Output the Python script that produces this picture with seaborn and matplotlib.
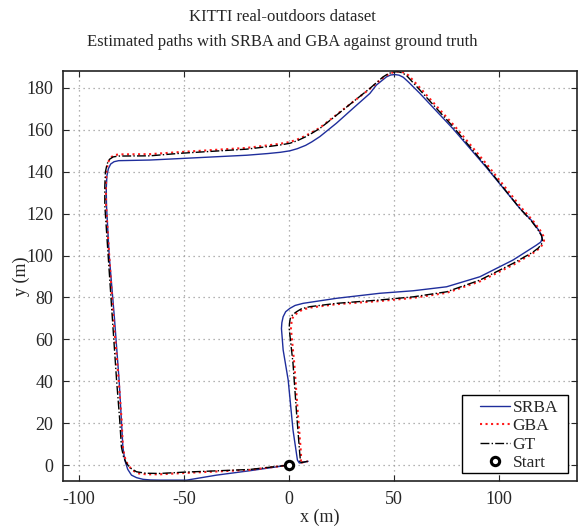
import numpy as np
import pandas as pd
import matplotlib
matplotlib.use("Agg")
import matplotlib.pyplot as plt
from matplotlib.patches import Rectangle
import seaborn as sns

# Estimated trajectories (x, y in metres), loop driven from the start point
srba_x = [0, -18.6, -34.4, -48.7, -61.4, -66.0, -69.4, -72.5, -74.9, -76.7, -78.1, -79.0, -79.7,
          -80.8, -83.0, -85.5, -86.8, -86.9, -86.6, -85.9, -84.8, -83.2, -81.0, -66.2, -51.9,
          -20.0, -10.0, -4.0, 0.5, 4.0, 8.0, 11.0, 14.8, 22.7, 30.6, 38.6, 41.7, 46.5, 48.5,
          50.5, 52.5, 54.5, 57.0, 62.4, 78.2, 94.1, 110.0, 115.5, 118.7, 120.3, 120.6, 120.0,
          117.9, 114.0, 106.8, 91.0, 75.1, 59.2, 43.3, 22.7, 6.8, 3.0, 0.5, -1.5, -2.7, -3.3,
          -3.5, -2.7, -0.3, 2.0, 4.1, 5.0, 9.2]
srba_y = [0, -2.7, -4.8, -7.2, -7.2, -7.1, -6.8, -6.0, -4.8, -2.0, 2.4, 8.7, 21.5,
          40.6, 70.0, 100.0, 124.0, 132.0, 138.0, 141.5, 143.7, 144.8, 145.3, 145.6, 146.3,
          147.9, 148.7, 149.3, 150.0, 151.0, 152.6, 154.3, 156.8, 163.2, 170.3, 177.4, 181.4, 185.3, 186.2,
          186.4, 186.1, 185.1, 182.8, 177.4, 160.5, 142.0, 122.5, 116.8, 112.5, 109.8, 108.2, 106.5,
          105.0, 102.5, 97.9, 89.9, 85.1, 83.2, 82.0, 79.6, 77.2, 76.2, 74.8, 73.2, 70.8, 68.0,
          65.2, 55.0, 40.6, 16.7, 2.4, 1.0, 1.8]

gba_x = [0, -18.6, -50.3, -61.4, -68.0, -72.0, -74.8, -76.8, -78.2, -79.0, -79.6, -81.0, -83.5,
         -85.5, -87.0, -87.1, -86.8, -86.0, -84.8, -83.0, -80.5, -66.2, -51.9, -20.0, -10.0,
         -4.0, 0.5, 4.0, 8.0, 11.0, 14.8, 22.7, 30.6, 38.6, 45.0, 48.0, 50.5, 53.0, 55.0, 57.0,
         63.4, 79.2, 95.1, 111.0, 116.3, 119.5, 121.2, 121.5, 120.8, 119.0, 116.0, 107.2, 91.3,
         75.1, 59.2, 43.3, 22.7, 10.5, 6.5, 4.3, 2.4, 1.4, 1.0, 2.6, 4.3, 5.8, 5.8, 5.2, 9.0]
gba_y = [0, -2.3, -3.8, -4.4, -4.4, -3.9, -2.2, 0.5, 4.0, 8.7, 21.5, 40.6, 70.0,
         100.0, 124.0, 133.0, 140.5, 144.6, 146.8, 148.0, 148.3, 148.4, 149.4, 151.4, 152.6,
         153.4, 154.2, 155.4, 157.2, 158.8, 161.0, 167.2, 173.4, 179.6, 185.0, 186.9, 187.7, 187.9, 187.3, 186.0,
         179.0, 161.5, 142.5, 122.5, 116.5, 112.3, 109.3, 107.2, 105.2, 103.2, 101.0, 95.8, 87.8,
         82.2, 79.8, 78.3, 76.8, 75.2, 74.2, 72.8, 71.3, 69.5, 65.0, 48.5, 24.7, 5.6, 2.3, 1.0, 1.8]

gt_x = [0, -18.6, -50.3, -61.4, -68.0, -72.5, -75.3, -77.3, -78.7, -79.7, -80.5, -82.0, -84.0,
        -86.0, -87.6, -87.6, -87.3, -86.5, -85.3, -83.6, -81.0, -66.2, -51.9, -20.0, -10.0,
        -4.0, 0.5, 4.0, 8.0, 11.0, 14.8, 22.7, 30.6, 38.6, 44.9, 47.5, 49.7, 52.0, 54.0, 56.0,
        62.4, 78.2, 94.1, 110.0, 115.5, 118.5, 120.3, 120.8, 120.3, 118.8, 116.0, 106.8, 91.0,
        75.1, 59.2, 43.3, 22.7, 10.0, 6.0, 3.7, 1.8, 0.7, 0.3, 0.2, 2.0, 3.7, 5.2, 5.5, 5.0, 9.0]
gt_y = [0, -2.1, -3.4, -4.0, -3.9, -3.2, -1.5, 0.8, 4.0, 8.7, 21.5, 40.6, 70.0,
        100.0, 124.0, 133.0, 140.0, 143.8, 146.0, 147.1, 147.5, 147.6, 148.8, 150.8, 152.0,
        152.8, 153.6, 154.8, 156.7, 158.4, 160.7, 167.0, 173.4, 179.8, 185.3, 186.9, 187.6, 187.8, 187.2, 186.0,
        179.0, 161.5, 142.5, 122.5, 116.5, 112.5, 109.5, 107.4, 105.5, 103.6, 101.5, 96.3, 88.3,
        82.7, 80.3, 78.8, 77.2, 75.6, 74.6, 73.2, 71.8, 70.0, 67.5, 65.0, 48.5, 24.7, 5.6, 2.5, 1.0, 1.8]

start_x = [0.0]
start_y = [0.0]

x_ticks = [-100, -50, 0, 50, 100]
y_ticks = [0, 20, 40, 60, 80, 100, 120, 140, 160, 180]

sns.set_style("ticks")
plt.rcParams["font.family"] = ["Liberation Serif", "DejaVu Serif"]
plt.rcParams["axes.unicode_minus"] = False

W, H = 578, 527
fig = plt.figure(figsize=(W / 100, H / 100), dpi=100)
ax = fig.add_axes([63 / W, 1 - 481 / H, 514 / W, 410 / H])

srba = pd.DataFrame({"x": srba_x, "y": srba_y})
gba = pd.DataFrame({"x": gba_x, "y": gba_y})
gt = pd.DataFrame({"x": gt_x, "y": gt_y})

sns.lineplot(data=srba, x="x", y="y", sort=False, estimator=None, ax=ax,
             color="#1f2e9c", linewidth=1.0, label="SRBA")
sns.lineplot(data=gba, x="x", y="y", sort=False, estimator=None, ax=ax,
             color="#ff1a1a", linewidth=1.5, linestyle=":", label="GBA")
sns.lineplot(data=gt, x="x", y="y", sort=False, estimator=None, ax=ax,
             color="black", linewidth=1.0, linestyle="-.", label="GT")
ax.plot(start_x, start_y, linestyle="none", marker="o", markersize=6,
        markerfacecolor="white", markeredgecolor="black", markeredgewidth=2.2,
        label="Start", zorder=5)

ax.set_xlim(-107.5, 137.2)
ax.set_ylim(-7.6, 188.1)
ax.set_xticks(x_ticks)
ax.set_yticks(y_ticks)
ax.tick_params(direction="in", length=4, width=0.8, top=True, right=True,
               labelsize=13, pad=7)
ax.grid(True, linestyle=(0, (1, 3)), color="#9a9a9a", linewidth=0.9)
for s in ax.spines.values():
    s.set_linewidth(1.2)
    s.set_color("#222222")

ax.set_xlabel("x (m)", fontsize=13, labelpad=1)
ax.set_ylabel("y (m)", fontsize=13, labelpad=-2.5)

fig.text(282 / W, 1 - 17 / H, "KITTI real-outdoors dataset",
         ha="center", va="center", fontsize=12)
fig.text(282 / W, 1 - 42 / H, "Estimated paths with SRBA and GBA against ground truth",
         ha="center", va="center", fontsize=12)

# Legend box with wider side margins than top/bottom
ax.add_patch(Rectangle((462 / W, 1 - 473 / H), (568 - 462) / W, (473 - 395) / H,
                       transform=fig.transFigure, facecolor="white",
                       edgecolor="black", linewidth=1.0, zorder=4.5, clip_on=False))
leg = ax.legend(loc="upper left", bbox_to_anchor=(480 / W, 1 - 400 / H),
                bbox_transform=fig.transFigure, fontsize=12.5, frameon=False,
                handlelength=1.75, borderpad=0, labelspacing=0.12,
                handletextpad=0.12, borderaxespad=0)
leg.set_zorder(6)

fig.savefig("out.png", dpi=100)
